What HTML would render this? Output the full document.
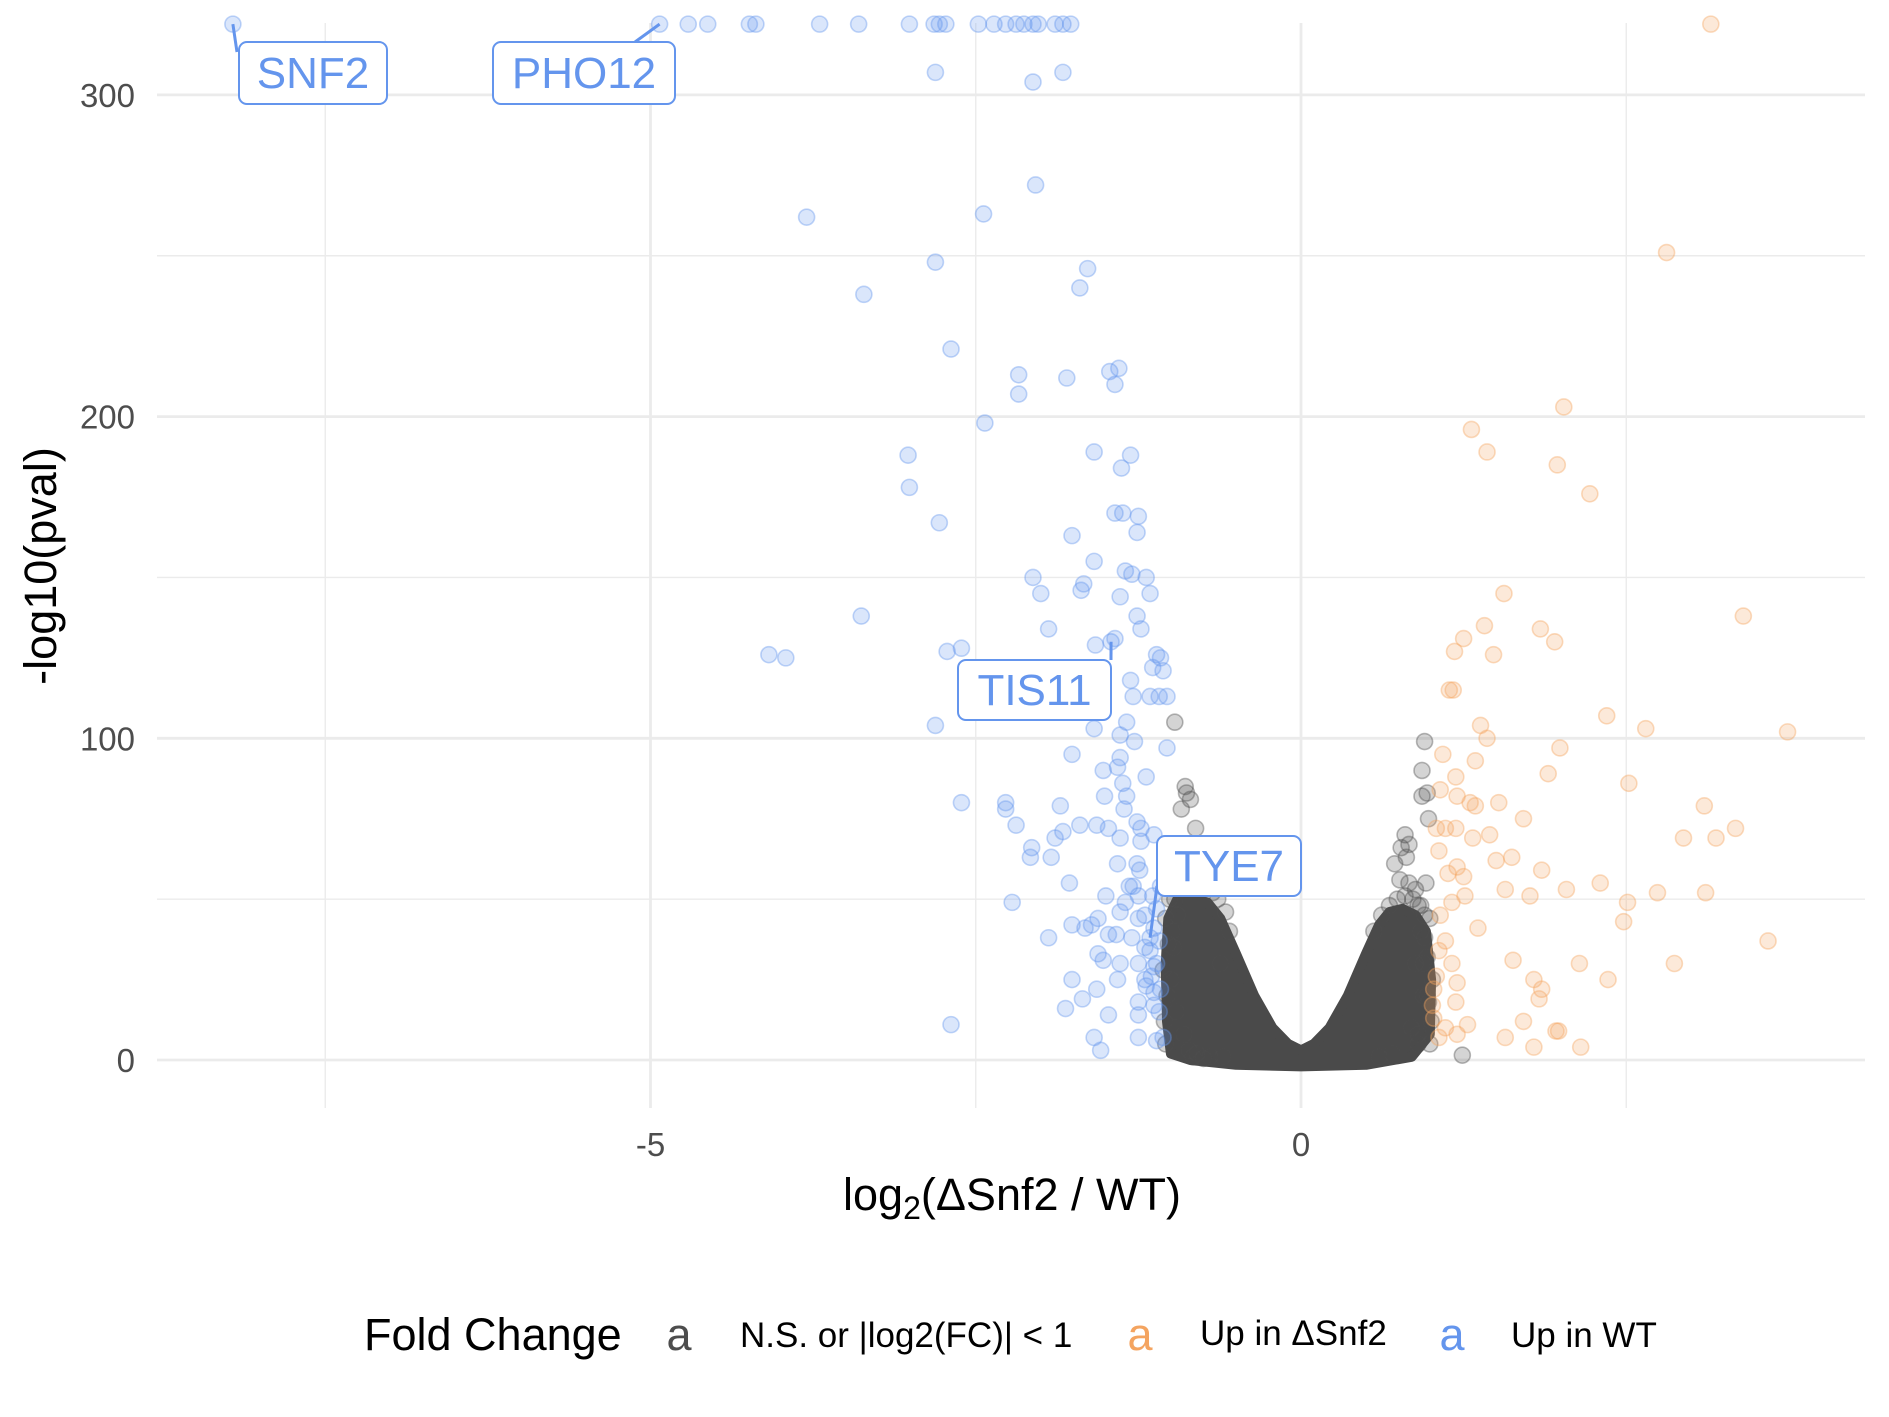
<!DOCTYPE html>
<html><head><meta charset="utf-8"><style>
html,body{margin:0;padding:0;background:#fff;}
svg{display:block;font-family:"Liberation Sans",sans-serif;}
</style></head><body>
<svg id="chart" width="1889" height="1417" viewBox="0 0 1889 1417" xmlns="http://www.w3.org/2000/svg">
<g id="grid"></g>
<g id="envelope"></g>
<g id="pts"></g>
<g id="labels"></g>
<g id="axes"></g>
<text x="1012" y="1210" font-size="45" text-anchor="middle" fill="#000">log<tspan font-size="32" dy="9">2</tspan><tspan dy="-9">(ΔSnf2 / WT)</tspan></text>
<text transform="translate(56,566) rotate(-90)" font-size="45" text-anchor="middle" fill="#000">-log10(pval)</text>
<g>
<text x="364" y="1350" font-size="45" fill="#000">Fold Change</text>
<text x="679" y="1350" font-size="45" text-anchor="middle" fill="#4d4d4d">a</text>
<text x="740" y="1347" font-size="35" fill="#000">N.S. or |log2(FC)| &lt; 1</text>
<text x="1140" y="1350" font-size="45" text-anchor="middle" fill="#F4A460">a</text>
<text x="1200" y="1345" font-size="35" fill="#000">Up in ΔSnf2</text>
<text x="1452" y="1350" font-size="45" text-anchor="middle" fill="#6495ED">a</text>
<text x="1511" y="1347" font-size="35" fill="#000">Up in WT</text>
</g>
</svg>
<script>
const xTicks=[-5,0];
const xMinor=[-7.5,-2.5,2.5];
const yTicks=[0,100,200,300];
const yMinor=[50,150,250];
const blueX=[-8.21,-4.93,-4.71,-4.56,-4.24,-4.19,-3.70,-3.40,-3.01,-2.82,-2.78,-2.73,-2.48,-2.36,-2.27,-2.19,-2.13,-2.06,-2.02,-1.89,-1.83,-1.77,
-2.81,-2.06,-1.83,-2.04,-3.80,-2.44,-2.81,-1.64,-1.70,-3.36,-2.69,-2.17,-1.80,-1.47,-1.40,-1.43,-2.17,-2.43,-3.02,-1.59,-1.31,-1.38,-3.01,-2.78,-1.43,-1.37,-1.25,-1.26,-1.76,-1.59,-2.06,-1.35,-1.30,-1.19,-1.67,-1.69,-2.00,-1.39,-1.16,-1.26,-3.38,-1.23,-1.94,-1.58,-1.46,-1.43,-4.09,-3.96,-2.72,-2.61,-1.11,-1.08,-1.14,-1.06,-1.31,-1.29,-1.16,-1.09,-1.03,-2.81,-1.59,-1.34,-1.39,-1.28,-1.03,-1.76,-1.39,-1.41,-1.52,-1.19,-1.37,-1.51,-1.34,-2.61,-2.27,-2.27,-1.85,-1.36,-1.48,-2.19,-1.70,-1.57,-1.26,-1.13,-1.39,-1.23,-1.83,-1.89,-1.23,-2.07,-2.08,-1.92,-1.41,-1.26,-1.24,-1.78,-1.32,-1.29,-1.25,-2.22,-1.50,-1.35,-1.20,-1.39,-1.25,-1.56,-1.61,-1.76,-1.66,-1.48,-1.94,-1.42,-1.30,-1.16,-1.20,-1.56,-1.52,-1.39,-1.25,-1.13,-1.41,-1.76,-1.20,-1.57,-1.68,-1.25,-1.13,-1.81,-1.48,-1.25,-1.09,-2.69,-1.59,-1.25,-1.11,-1.54,-1.06,
-1.16,-1.11,-1.13,-1.09,-1.15,-1.08,-1.13,-1.19,-1.11,-1.14,-1.08];
const blueY=[322,322,322,322,322,322,322,322,322,322,322,322,322,322,322,322,322,322,322,322,322,322,
307,304,307,272,262,263,248,246,240,238,221,213,212,214,215,210,207,198,188,189,188,184,178,167,170,170,169,164,163,155,150,152,151,150,148,146,145,144,145,138,138,134,134,129,130,131,126,125,127,128,126,125,122,121,118,113,113,113,113,104,103,105,101,99,97,95,94,91,90,88,86,82,82,80,80,78,79,78,72,73,73,73,74,70,69,72,71,69,68,66,63,63,61,61,59,55,54,54,51,49,51,49,45,46,44,44,42,42,41,39,38,39,38,38,35,33,31,30,30,29,25,25,25,22,19,18,17,16,14,14,15,11,7,7,6,3,7,
34,30,41,37,26,22,21,23,47,51,54];
const orangeX=[3.15,2.81,2.02,1.31,1.43,1.97,2.22,1.56,3.40,1.41,1.84,1.25,1.95,1.18,1.48,1.17,1.14,2.35,1.38,2.65,3.74,1.43,1.99,1.09,1.34,1.19,1.90,2.52,1.07,1.20,1.52,1.34,1.30,3.10,1.71,1.04,1.11,1.19,1.45,3.34,2.94,3.19,1.32,1.50,1.62,1.85,1.06,1.20,1.25,1.13,1.57,1.76,2.04,2.30,2.74,3.11,2.51,2.48,1.36,1.07,1.16,1.26,3.59,1.63,2.14,2.87,1.79,1.85,2.36,1.83,1.19,1.02,1.01,1.71,1.96,1.98,1.57,1.79,2.15,1.06,1.20,1.11,1.28,1.02,1.16,1.06,1.11,1.04,1.20];
const orangeY=[322,251,203,196,189,185,176,145,138,135,134,131,130,127,126,115,115,107,104,103,102,100,97,95,93,88,89,86,84,82,80,79,80,79,75,72,72,72,70,72,69,69,69,62,63,59,65,60,57,58,53,51,53,55,52,52,49,43,41,45,49,51,37,31,30,30,25,22,25,19,18,22,17,12,9,9,7,4,4,7,8,10,11,13,30,34,37,26,24];
const greyX=[-0.97,-0.89,-0.85,-0.81,-0.88,-0.92,0.95,0.93,0.97,0.93,0.98,0.80,0.77,0.81,0.72,0.83,1.24,-0.83,-0.95,-0.98,-1.0,-0.96,-0.9,-0.86,-0.8,-0.7,-0.99,-0.97,0.9,0.92,0.88,0.94,0.85,0.9,0.6,0.7,-0.6,-0.75,0.95,0.96,
-1.04,-1.05,-1.03,-1.06,-1.02,-1.04,-1.01,-0.98,-0.93,-0.87,-0.8,-0.74,-0.68,-0.64,-0.58,-0.78,-0.66,-0.92,-0.55,-0.62,
0.99,1.0,0.98,1.01,0.97,0.95,0.99,0.92,0.86,0.8,0.74,0.68,0.62,0.56,0.83,0.88,0.76,0.94,0.97,0.9];
const greyY=[105,85,81,72,83,78,99,90,83,82,75,70,66,63,61,67,1.5,1,45,35,25,15,8,3,2,1,40,50,48,40,30,20,10,5,1,2,1,0.5,45,55,
5,12,20,28,36,44,50,54,57,55,56,54,52,50,46,60,55,60,40,30,
5,12,18,25,32,38,44,48,50,51,50,48,45,40,55,53,56,30,20,8];
const envX=[-1.0,-1.03,-1.04,-1.02,-0.95,-0.85,-0.72,-0.62,-0.5,-0.36,-0.22,-0.1,0,0.1,0.22,0.36,0.5,0.6,0.68,0.78,0.88,0.96,1.0,0.99,0.85,0.5,0,-0.5,-0.85];
const envY=[2,12,30,44,50,50,49,44,33,20,10,5,3,5,10,20,33,42,46,47,45,40,25,8,1,-1.5,-2,-1.5,0];
const labelNames=["SNF2","PHO12","TIS11","TYE7"];
const labelPtX=[-8.21,-4.93,-1.46,-1.16];
const labelPtY=[322,322,130,38];

const X=v=>1301+v*130.1, Y=v=>1060-v*3.217;
const NS="http://www.w3.org/2000/svg";
function mk(tag,attrs,parent){const e=document.createElementNS(NS,tag);for(const k in attrs)e.setAttribute(k,attrs[k]);parent.appendChild(e);return e;}
const grid=document.getElementById('grid');
const L=157,R=1865,T=23,B=1108;
yMinor.forEach(v=>{const e=mk('line',{x1:L,x2:R,y1:Y(v),y2:Y(v),stroke:'#ebebeb','stroke-width':1.4},grid);

});
xMinor.forEach(v=>{const e=mk('line',{x1:X(v),x2:X(v),y1:T,y2:B,stroke:'#ebebeb','stroke-width':1.4},grid);

});
yTicks.forEach(v=>{const e=mk('line',{x1:L,x2:R,y1:Y(v),y2:Y(v),stroke:'#ebebeb','stroke-width':2.8},grid);

});
xTicks.forEach(v=>{const e=mk('line',{x1:X(v),x2:X(v),y1:T,y2:B,stroke:'#ebebeb','stroke-width':2.8},grid);

});
const axes=document.getElementById('axes');
yTicks.forEach(v=>{const t=mk('text',{x:135,y:Y(v)+12,'font-size':33,'text-anchor':'end',fill:'#4d4d4d'},axes);t.textContent=String(v);

});
xTicks.forEach(v=>{const t=mk('text',{x:X(v),y:1156,'font-size':33,'text-anchor':'middle',fill:'#4d4d4d'},axes);t.textContent=String(v);

});
const env=document.getElementById('envelope');
let d=envX.map((x,i)=>(i?'L':'M')+X(x).toFixed(1)+','+Y(envY[i]).toFixed(1)).join(' ')+'Z';
const ep=mk('path',{d:d,fill:'#4a4a4a',stroke:'#4a4a4a','stroke-width':10,'stroke-linejoin':'round'},env);


const pts=document.getElementById('pts');
function drawSeries(xs,ys,col,name){xs.forEach((x,i)=>{const c=mk('circle',{cx:X(x),cy:Y(ys[i]),r:8,fill:col,'fill-opacity':0.24,stroke:col,'stroke-opacity':0.4,'stroke-width':1.6},pts);

});}
drawSeries(greyX,greyY,'#4d4d4d','point-ns');
drawSeries(blueX,blueY,'#6495ED','point-up-wt');
drawSeries(orangeX,orangeY,'#F4A460','point-up-snf2');
const lab=document.getElementById('labels');
const boxes=[[239,42,148,62],[493,42,182,62],[958,660,153,60],[1157,836,144,60]];
const anchors=[[237,52],[635,42],[1111,660],[1157,886]];
labelNames.forEach((n,i)=>{const b=boxes[i];const px=X(labelPtX[i]),py=Y(labelPtY[i]);
const ln=mk('line',{x1:px,y1:py,x2:anchors[i][0],y2:anchors[i][1],stroke:'#6495ED','stroke-width':3},lab);


const r=mk('rect',{x:b[0],y:b[1],width:b[2],height:b[3],rx:8,fill:'#fff',stroke:'#6495ED','stroke-width':2},lab);


const t=mk('text',{x:b[0]+b[2]/2,y:b[1]+b[3]/2+15,'font-size':44,'text-anchor':'middle',fill:'#6495ED'},lab);t.textContent=n;

});
</script>
</body></html>
